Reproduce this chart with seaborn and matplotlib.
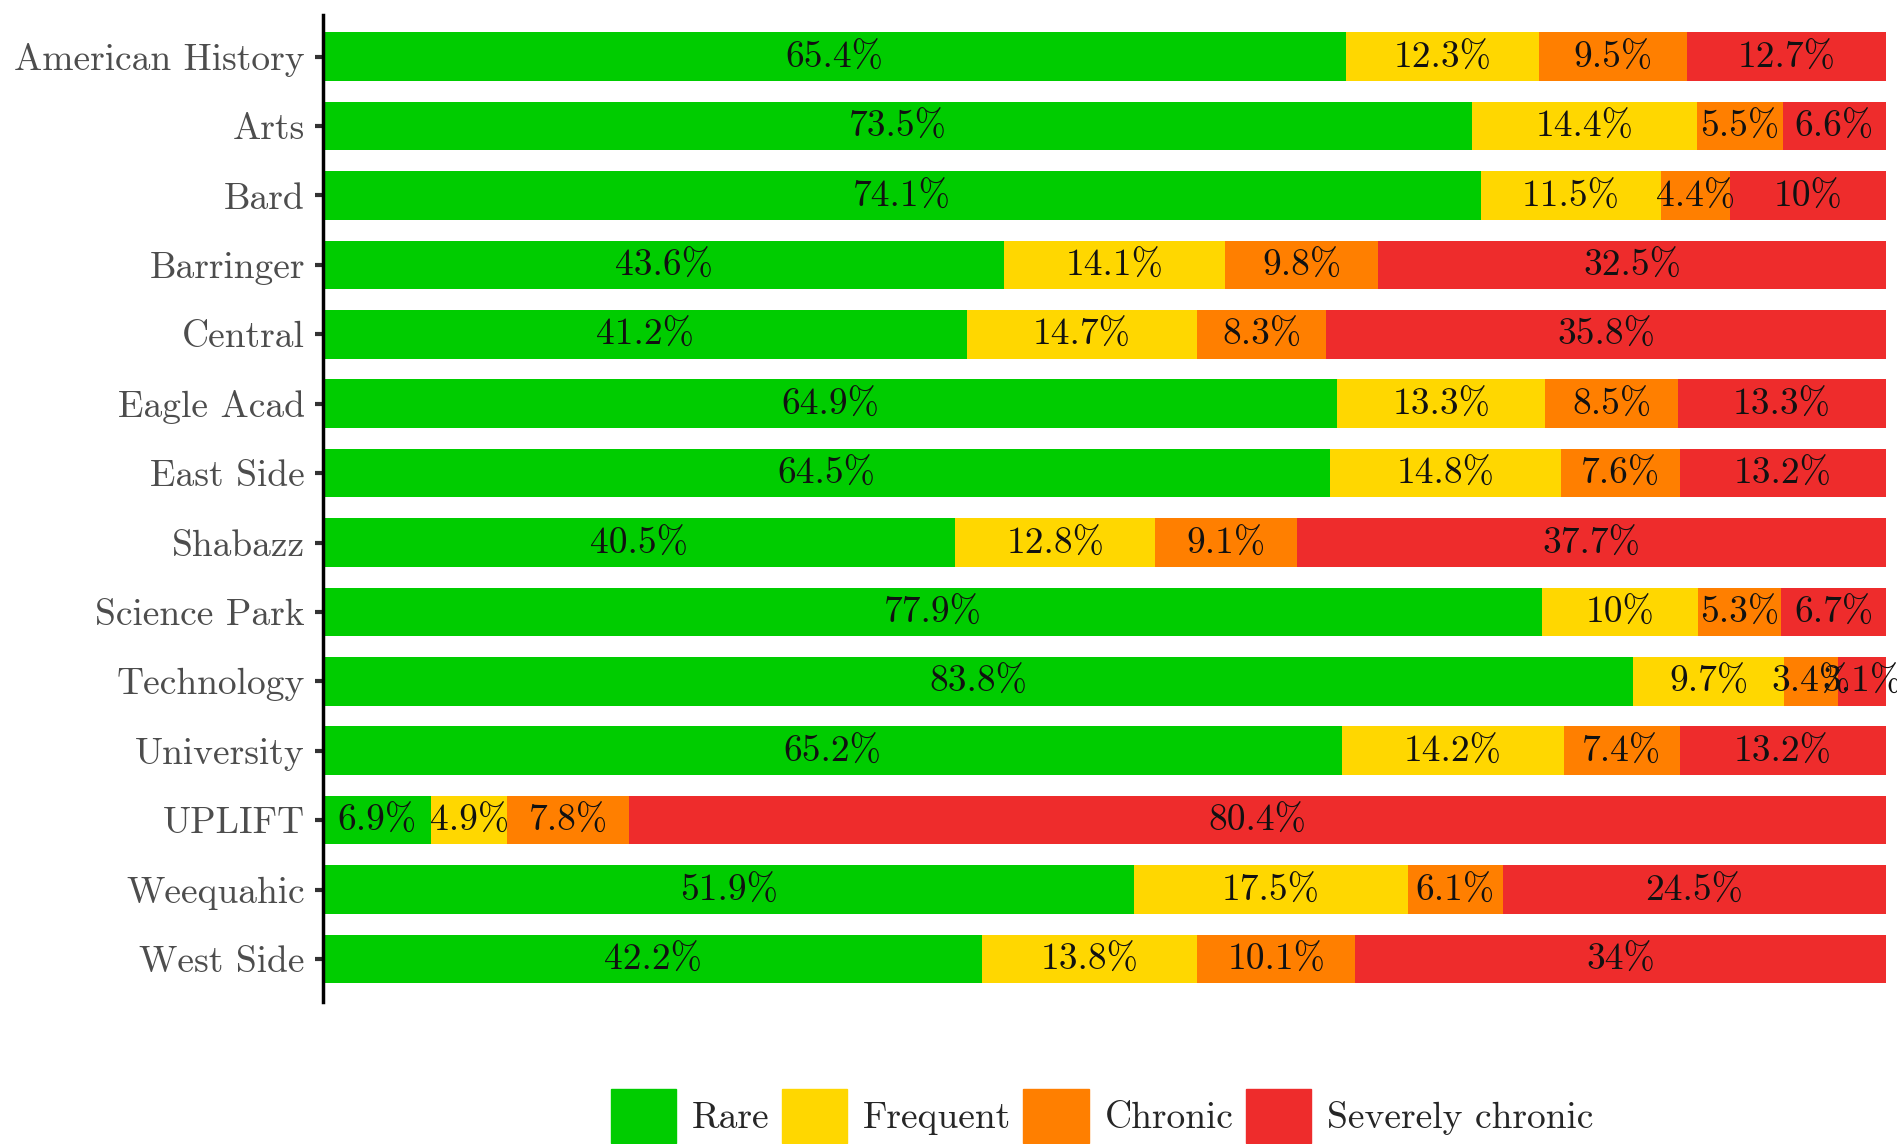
import numpy as np
import pandas as pd
import matplotlib
matplotlib.use("Agg")
import matplotlib.pyplot as plt
import matplotlib.patches as mpatches
import seaborn as sns

schools = ["American History", "Arts", "Bard", "Barringer", "Central", "Eagle Acad",
           "East Side", "Shabazz", "Science Park", "Technology", "University",
           "UPLIFT", "Weequahic", "West Side"]
categories = ["Rare", "Frequent", "Chronic", "Severely chronic"]
rare = [65.4, 73.5, 74.1, 43.6, 41.2, 64.9, 64.5, 40.5, 77.9, 83.8, 65.2, 6.9, 51.9, 42.2]
frequent = [12.3, 14.4, 11.5, 14.1, 14.7, 13.3, 14.8, 12.8, 10, 9.7, 14.2, 4.9, 17.5, 13.8]
chronic = [9.5, 5.5, 4.4, 9.8, 8.3, 8.5, 7.6, 9.1, 5.3, 3.4, 7.4, 7.8, 6.1, 10.1]
severe = [12.7, 6.6, 10, 32.5, 35.8, 13.3, 13.2, 37.7, 6.7, 3.1, 13.2, 80.4, 24.5, 34]
colors = ["#00CC00", "#FFD700", "#FF7F00", "#EE2C2C"]

sns.set_style("white")
plt.rcParams["font.family"] = ["cmr10", "DejaVu Serif"]
plt.rcParams["axes.formatter.use_mathtext"] = True

df = pd.DataFrame({"school": schools, "Rare": rare, "Frequent": frequent,
                   "Chronic": chronic, "Severely chronic": severe})
vals = df[categories].to_numpy(dtype=float)
shares = vals / vals.sum(axis=1, keepdims=True) * 100
cum = np.cumsum(shares, axis=1)

fig = plt.figure(figsize=(18.97, 11.44), dpi=100)
ax = fig.add_axes([323 / 1897, 1 - 1002 / 1144, (1886 - 323) / 1897, (1002 - 15) / 1144])

# draw cumulative bars from the back so that they look stacked
for i in range(len(categories) - 1, -1, -1):
    sns.barplot(x=cum[:, i], y=df["school"], orient="h", color=colors[i],
                saturation=1, width=0.7, ax=ax, linewidth=0)

for r in range(len(schools)):
    for i in range(len(categories)):
        left = cum[r, i] - shares[r, i]
        ax.text(left + shares[r, i] / 2, r + 0.02, f"{vals[r, i]:g}%", ha="center",
                va="center", fontsize=27, color="#111111")

ax.set_xlim(0, 100)
ax.set_ylim(13.62, -0.6)
ax.set_xlabel("")
ax.set_ylabel("")
ax.set_xticks([])
for s in ["top", "right", "bottom"]:
    ax.spines[s].set_visible(False)
ax.spines["left"].set_linewidth(2.5)
ax.spines["left"].set_color("black")
ax.tick_params(axis="y", left=True, length=6, width=3, color="#333333",
               labelsize=27, labelcolor="#4d4d4d", pad=7)

handles = [mpatches.Patch(color=c, label=l) for c, l in zip(colors, categories)]
fig.legend(handles=handles, loc="center", ncol=4, frameon=False,
           bbox_to_anchor=(1102 / 1897, 1 - 1116 / 1144), fontsize=27,
           handlelength=1.75, handleheight=1.8, handletextpad=0.42,
           columnspacing=0.32, borderpad=0)

fig.savefig("out.png", dpi=100)
